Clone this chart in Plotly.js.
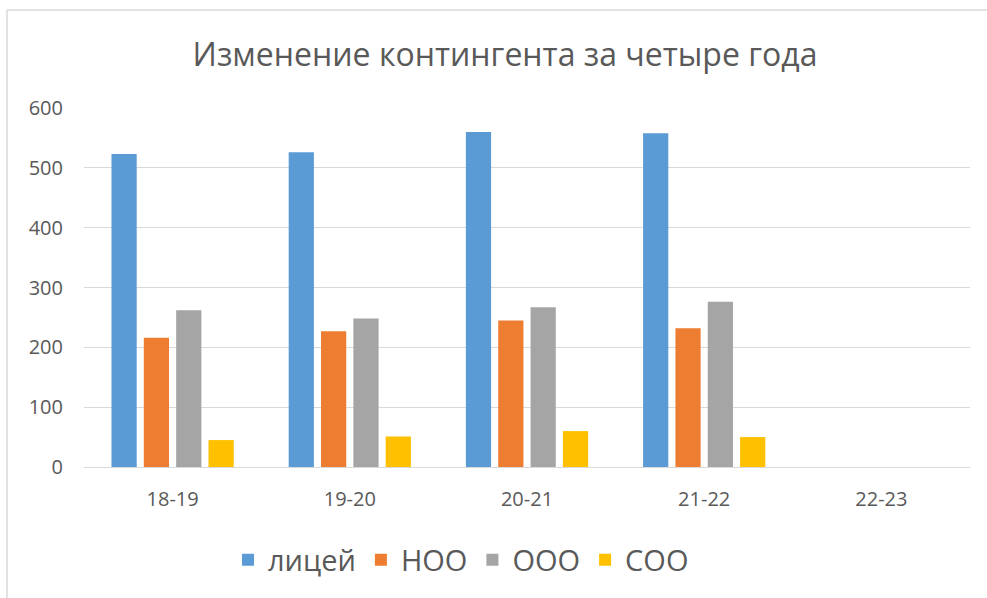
<!DOCTYPE html>
<html>
<head>
<meta charset="utf-8">
<script src="https://cdn.plot.ly/plotly-3.0.1.min.js"></script>
<style>
  html, body { margin: 0; padding: 0; background: #ffffff; }
  #chart { width: 987px; height: 598px; }
</style>
</head>
<body>
<div id="chart"></div>
<script>
const categories = ['18-19', '19-20', '20-21', '21-22', '22-23'];
const seriesNames = ['лицей', 'НОО', 'ООО', 'СОО'];
const litsei = [523, 526, 560, 558, null];
const noo = [216, 227, 245, 232, null];
const ooo = [262, 248, 267, 276, null];
const soo = [45, 51, 60, 50, null];
const colors = ['#5B9BD5', '#ED7D31', '#A5A5A5', '#FFC000'];
const yTicks = [0, 100, 200, 300, 400, 500, 600];
const titleText = 'Изменение контингента за четыре года';

const W = 987, H = 598;
const m = {l: 84, r: 17, t: 108, b: 131};
const pw = W - m.l - m.r, ph = H - m.t - m.b;
const px = v => (v - m.l) / pw;
const py = v => (H - m.b - v) / ph;

const values = [litsei, noo, ooo, soo];
const traces = values.map((vals, i) => ({
  type: 'bar',
  name: seriesNames[i],
  x: categories,
  y: vals,
  marker: {color: colors[i], line: {width: 0}},
  hoverinfo: 'x+y+name'
}));

const font = 'Open Sans, Liberation Sans, sans-serif';
const layout = {
  width: W, height: H,
  margin: m,
  paper_bgcolor: '#ffffff',
  plot_bgcolor: '#ffffff',
  barmode: 'group',
  bargap: 0.27,
  bargroupgap: 0.22,
  title: {
    text: titleText,
    font: {family: font, size: 32, color: '#595959'},
    x: 505 / W, xref: 'container', xanchor: 'center',
    y: 1 - 55 / H, yref: 'container', yanchor: 'middle'
  },
  xaxis: {
    type: 'category',
    range: [-0.5, 4.5],
    showgrid: false,
    showline: true,
    linecolor: '#D9D9D9',
    linewidth: 1,
    ticks: '',
    ticklabelstandoff: 14,
    tickfont: {family: font, size: 20, color: '#595959'},
    fixedrange: true
  },
  yaxis: {
    range: [0, 600],
    tickvals: yTicks,
    showgrid: true,
    gridcolor: '#D9D9D9',
    gridwidth: 1,
    zeroline: false,
    showline: false,
    ticks: '',
    ticklabelstandoff: 20,
    tickfont: {family: font, size: 20, color: '#595959'},
    fixedrange: true
  },
  showlegend: true,
  legend: {
    orientation: 'h',
    x: px(228), xanchor: 'left',
    y: py(560), yanchor: 'middle',
    font: {family: font, size: 29, color: '#595959'},
    bgcolor: 'rgba(0,0,0,0)',
    traceorder: 'normal'
  },
  shapes: [
    {type: 'line', xref: 'paper', yref: 'paper', x0: px(7), x1: px(990), y0: py(10), y1: py(10),
     line: {color: '#D9D9D9', width: 1.5}},
    {type: 'line', xref: 'paper', yref: 'paper', x0: px(7), x1: px(7), y0: py(10), y1: py(600),
     line: {color: '#D9D9D9', width: 1.5}}
  ]
};

Plotly.newPlot('chart', traces, layout, {displayModeBar: false, staticPlot: true});
</script>
</body>
</html>
